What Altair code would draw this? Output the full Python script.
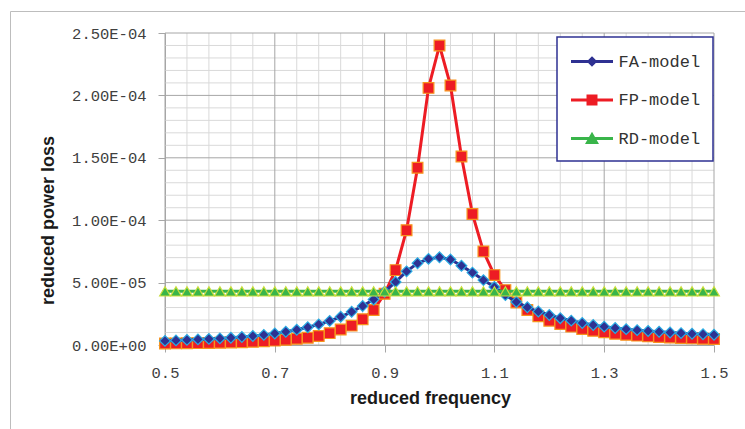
import altair as alt
import pandas as pd

# ---------------- data ----------------
freq = [0.50, 0.52, 0.54, 0.56, 0.58, 0.60, 0.62, 0.64, 0.66, 0.68,
        0.70, 0.72, 0.74, 0.76, 0.78, 0.80, 0.82, 0.84, 0.86, 0.88,
        0.90, 0.92, 0.94, 0.96, 0.98, 1.00, 1.02, 1.04, 1.06, 1.08,
        1.10, 1.12, 1.14, 1.16, 1.18, 1.20, 1.22, 1.24, 1.26, 1.28,
        1.30, 1.32, 1.34, 1.36, 1.38, 1.40, 1.42, 1.44, 1.46, 1.48, 1.50]

fa_model = [3.3e-6, 3.7e-6, 4.1e-6, 4.5e-6, 4.9e-6, 5.3e-6, 5.8e-6, 6.4e-6, 7.2e-6, 8.1e-6,
            9.2e-6, 1.06e-5, 1.22e-5, 1.42e-5, 1.65e-5, 1.93e-5, 2.26e-5, 2.66e-5, 3.12e-5, 3.65e-5,
            4.27e-5, 5.05e-5, 5.90e-5, 6.55e-5, 6.90e-5, 7.03e-5, 6.85e-5, 6.35e-5, 5.80e-5, 5.20e-5,
            4.65e-5, 4.00e-5, 3.45e-5, 3.02e-5, 2.68e-5, 2.40e-5, 2.15e-5, 1.95e-5, 1.76e-5, 1.60e-5,
            1.47e-5, 1.36e-5, 1.27e-5, 1.19e-5, 1.12e-5, 1.06e-5, 1.00e-5, 9.5e-6, 9.0e-6, 8.6e-6, 8.2e-6]

fp_model = [1.2e-6, 1.3e-6, 1.4e-6, 1.5e-6, 1.6e-6, 1.8e-6, 2.0e-6, 2.2e-6, 2.6e-6, 3.0e-6,
            3.5e-6, 4.2e-6, 5.0e-6, 5.8e-6, 7.2e-6, 9.5e-6, 1.24e-5, 1.55e-5, 2.06e-5, 2.80e-5,
            4.10e-5, 6.00e-5, 9.20e-5, 1.42e-4, 2.06e-4, 2.40e-4, 2.08e-4, 1.51e-4, 1.05e-4, 7.50e-5,
            5.60e-5, 4.40e-5, 3.40e-5, 2.80e-5, 2.30e-5, 1.95e-5, 1.68e-5, 1.47e-5, 1.28e-5, 1.14e-5,
            1.02e-5, 9.0e-6, 8.2e-6, 7.5e-6, 6.9e-6, 6.4e-6, 6.0e-6, 5.6e-6, 5.3e-6, 5.0e-6, 4.8e-6]

rd_model = [4.3e-5] * 51

series_names = ["FA-model", "FP-model", "RD-model"]
line_colors = ["#2e3192", "#ed1c24", "#39b54a"]
marker_fill = ["#2e3192", "#ed1c24", "#39b54a"]
marker_stroke = ["#29abe2", "#f7941d", "#c9dd3a"]
marker_shapes = ["diamond", "square", "triangle-up"]
legend_paths = [
    "M-2,0H2M0,-0.3L0.3,0L0,0.3L-0.3,0Z",
    "M-2,0H2M-0.38,-0.38H0.38V0.38H-0.38Z",
    "M-2,0H2M0,-0.36L0.42,0.38H-0.42Z",
]

x_major = [0.5, 0.7, 0.9, 1.1, 1.3, 1.5]
x_tick_labels = ["0.5", "0.7", "0.9", "1.1", "1.3", "1.5"]
x_minor = [0.54, 0.58, 0.62, 0.66, 0.74, 0.78, 0.82, 0.86, 0.94, 0.98, 1.02, 1.06,
           1.14, 1.18, 1.22, 1.26, 1.34, 1.38, 1.42, 1.46]
y_major = [0.0, 5e-5, 1e-4, 1.5e-4, 2e-4, 2.5e-4]
y_tick_labels = ["0.00E+00", "5.00E-05", "1.00E-04", "1.50E-04", "2.00E-04", "2.50E-04"]
y_minor = [1e-5, 2e-5, 3e-5, 4e-5, 6e-5, 7e-5, 8e-5, 9e-5, 1.1e-4, 1.2e-4, 1.3e-4, 1.4e-4,
           1.6e-4, 1.7e-4, 1.8e-4, 1.9e-4, 2.1e-4, 2.2e-4, 2.3e-4, 2.4e-4]

rows = []
for name, vals in zip(series_names, [fa_model, fp_model, rd_model]):
    for f, v in zip(freq, vals):
        rows.append({"freq": f, "loss": v, "series": name})
df = pd.DataFrame(rows)

# ---------------- scales & axes ----------------
xscale = alt.Scale(domain=[0.5, 1.5], nice=False, zero=False)
yscale = alt.Scale(domain=[0, 2.5e-4], nice=False, zero=False)

x_label_expr = "[" + ",".join("'%s'" % s for s in x_tick_labels) + "][round((datum.value-0.5)*5)]"
y_label_expr = "[" + ",".join("'%s'" % s for s in y_tick_labels) + "][round(datum.value*20000)]"

AX_GRAY = "#a6a6a6"
x_axis = alt.Axis(values=x_major, labelExpr=x_label_expr, grid=False,
                  tickSize=7, tickColor=AX_GRAY, domainColor=AX_GRAY,
                  labelFont="Liberation Mono", labelFontSize=15.5, labelColor="#404040",
                  labelPadding=13, labelFlush=False,
                  title="reduced frequency", titleFont="Liberation Sans", titleFontWeight="bold",
                  titleFontSize=18, titleColor="#1a1a1a", titleX=265, titleY=58,
                  titleBaseline="alphabetic", titleAlign="center")
y_axis = alt.Axis(values=y_major, labelExpr=y_label_expr, grid=False,
                  tickSize=7, tickColor=AX_GRAY, domainColor=AX_GRAY,
                  labelFont="Liberation Mono", labelFontSize=15.5, labelColor="#404040",
                  labelPadding=12, labelFlush=False,
                  title="reduced power loss", titleFont="Liberation Sans", titleFontWeight="bold",
                  titleFontSize=18, titleColor="#1a1a1a", titleX=-112, titleY=187,
                  titleAngle=270, titleBaseline="alphabetic", titleAlign="center")

def X(field):
    return alt.X(field, type="quantitative", scale=xscale, axis=x_axis)

def Y(field):
    return alt.Y(field, type="quantitative", scale=yscale, axis=y_axis)

# ---------------- layers ----------------
frame = alt.Chart(pd.DataFrame({"a": [0]})).mark_rect(
    fillOpacity=0, stroke="#bdbdbd", strokeWidth=1
).encode(x=alt.value(-154.5), x2=alt.value(700), y=alt.value(-21.5), y2=alt.value(500))

grid_minor_x = alt.Chart(pd.DataFrame({"v": x_minor})).mark_rule(color="#d9d9d9", strokeWidth=1).encode(x=X("v"))
grid_minor_y = alt.Chart(pd.DataFrame({"v": y_minor})).mark_rule(color="#d9d9d9", strokeWidth=1).encode(y=Y("v"))
grid_major_x = alt.Chart(pd.DataFrame({"v": x_major})).mark_rule(color=AX_GRAY, strokeWidth=1).encode(x=X("v"))
grid_major_y = alt.Chart(pd.DataFrame({"v": y_major})).mark_rule(color=AX_GRAY, strokeWidth=1).encode(y=Y("v"))

layers = [frame, grid_minor_x, grid_minor_y, grid_major_x, grid_major_y]

draw_order = [1, 0, 2]  # FP below, then FA, then RD on top
for i in draw_order:
    name = series_names[i]
    base = alt.Chart(df).transform_filter(alt.datum.series == name)
    layers.append(base.mark_line(color=line_colors[i], strokeWidth=3).encode(x=X("freq"), y=Y("loss")))
    layers.append(base.mark_point(shape=marker_shapes[i], filled=True, fill=marker_fill[i],
                                  stroke=marker_stroke[i], strokeWidth=1.2, size=115, opacity=1)
                  .encode(x=X("freq"), y=Y("loss")))

legend = alt.Legend(title=None, orient="none", legendX=392, legendY=4,
                    fillColor="white", strokeColor="#2e3192",
                    padding=12.5, labelFont="Liberation Mono", labelFontSize=17, labelColor="#333333",
                    symbolSize=441, symbolOffset=10.5, symbolStrokeWidth=3,
                    labelOffset=14.5, rowPadding=16.5, symbolOpacity=1)
legend_layer = alt.Chart(df).mark_point(filled=True, fillOpacity=0, strokeOpacity=0).encode(
    x=X("freq"), y=Y("loss"),
    fill=alt.Fill("series:N", scale=alt.Scale(domain=series_names, range=marker_fill), legend=legend),
    stroke=alt.Stroke("series:N", scale=alt.Scale(domain=series_names, range=line_colors), legend=legend),
    shape=alt.Shape("series:N", scale=alt.Scale(domain=series_names, range=legend_paths), legend=legend),
)
layers.append(legend_layer)

chart = alt.layer(*layers).properties(
    width=549, height=312,
    autosize=alt.AutoSizeParams(type="none"),
    padding={"left": 165, "top": 33, "right": 31, "bottom": 84},
    background="white",
).configure_view(stroke=None).configure_legend(strokeWidth=1.5)

chart.save("out.html", embed_options={"renderer": "svg", "actions": False})
